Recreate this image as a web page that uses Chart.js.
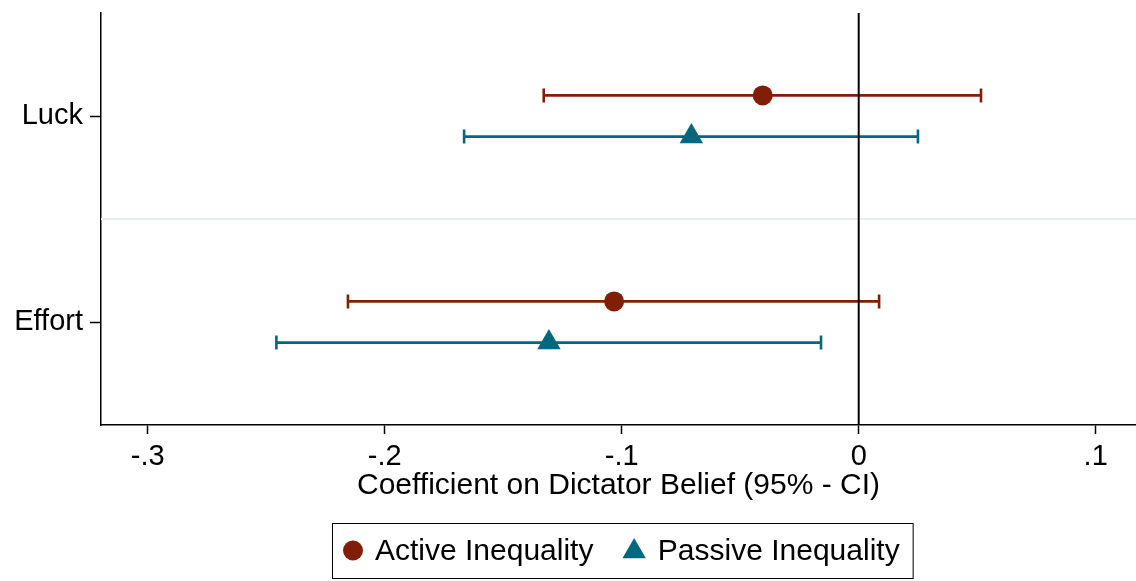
<!DOCTYPE html>
<html>
<head>
<meta charset="utf-8">
<title>Coefficient on Dictator Belief</title>
<script src="https://cdn.jsdelivr.net/npm/chart.js@4.4.1/dist/chart.umd.min.js"></script>
<style>
  html, body { margin: 0; padding: 0; background: #ffffff; overflow: hidden; }
  #wrap { width: 1136px; height: 581px; position: relative; }
</style>
</head>
<body>
<div id="wrap"><canvas id="chart"></canvas></div>
<script>
// Treatment categories (top to bottom) and the two inequality conditions
const categories = ['Luck', 'Effort'];
const seriesNames = ['Active Inequality', 'Passive Inequality'];

// Point estimates and 95% confidence bounds, one entry per category
const activeCoef  = [-0.0405, -0.1032];
const activeLow   = [-0.1329, -0.2155];
const activeHigh  = [ 0.0516,  0.0086];
const passiveCoef = [-0.0706, -0.1307];
const passiveLow  = [-0.1665, -0.2457];
const passiveHigh = [ 0.0250, -0.0159];

// Horizontal axis ticks
const xTickValues = [-0.3, -0.2, -0.1, 0, 0.1];
const xTickLabels = ['-.3', '-.2', '-.1', '0', '.1'];
const xTitle = 'Coefficient on Dictator Belief (95% - CI)';

const RED = '#801e08';
const TEAL = '#03677f';
const FONT = '"Liberation Sans", Arial, Helvetica, sans-serif';
Chart.defaults.font.family = FONT;
Chart.defaults.color = '#000';

// Each series sits slightly above / below its category row
function rows(coef, low, high, shift) {
  return categories.map((c, i) => ({ x: coef[i], y: i + 1 + shift, lo: low[i], hi: high[i] }));
}

// Separator between rows, confidence intervals with caps, and the zero reference line
const intervalPlugin = {
  id: 'intervals',
  beforeDatasetsDraw(chart) {
    const { ctx, chartArea: ca } = chart;
    const xs = chart.scales.x, ys = chart.scales.y;
    ctx.save();
    // light separator between the two category rows
    for (let i = 1; i < categories.length; i++) {
      const y = ys.getPixelForValue(i + 0.5);
      ctx.strokeStyle = '#e6eff1';
      ctx.lineWidth = 2;
      ctx.beginPath();
      ctx.moveTo(ca.left, y);
      ctx.lineTo(ca.right, y);
      ctx.stroke();
    }
    // interval bars
    ctx.lineCap = 'butt';
    chart.data.datasets.forEach(ds => {
      ctx.strokeStyle = ds.borderColor;
      ctx.lineWidth = 2.6;
      ds.data.forEach(p => {
        const y = ys.getPixelForValue(p.y);
        const x1 = xs.getPixelForValue(p.lo);
        const x2 = xs.getPixelForValue(p.hi);
        ctx.beginPath();
        ctx.moveTo(x1, y); ctx.lineTo(x2, y);
        ctx.moveTo(x1, y - 7); ctx.lineTo(x1, y + 7);
        ctx.moveTo(x2, y - 7); ctx.lineTo(x2, y + 7);
        ctx.stroke();
      });
    });
    // vertical reference line at zero
    const x0 = xs.getPixelForValue(0);
    ctx.strokeStyle = '#000';
    ctx.lineWidth = 2;
    ctx.beginPath();
    ctx.moveTo(x0, ca.top);
    ctx.lineTo(x0, ca.bottom);
    ctx.stroke();
    ctx.restore();
  }
};

// Boxed legend below the axis title
const boxLegendPlugin = {
  id: 'boxLegend',
  afterDraw(chart) {
    const { ctx, chartArea: ca } = chart;
    ctx.save();
    ctx.font = '30px ' + FONT;
    ctx.textBaseline = 'middle';
    const padL = 11, padR = 13, gapText = 12, gapItem = 29;
    const items = chart.data.datasets.map(ds => {
      const r = ds.pointRadius;
      const w = ds.pointStyle === 'triangle' ? r * Math.sqrt(3) : 2 * r;
      return { ds, w, tw: ctx.measureText(ds.label).width };
    });
    let total = padL + padR;
    items.forEach((it, i) => { total += it.w + gapText + it.tw + (i ? gapItem : 0); });
    const h = 55;
    const cx = (ca.left + ca.right) / 2 + 3.5;
    const left = Math.round(cx - total / 2);
    const top = 523;
    const cy = top + h / 2;
    ctx.strokeStyle = '#000';
    ctx.lineWidth = 1;
    ctx.strokeRect(left + 0.5, top + 0.5, total, h);
    let x = left + padL;
    items.forEach((it, i) => {
      if (i) x += gapItem;
      const ds = it.ds;
      ctx.fillStyle = ds.backgroundColor;
      const mx = x + it.w / 2;
      if (ds.pointStyle === 'triangle') {
        const r = ds.pointRadius;
        const my = cy + 1;
        ctx.beginPath();
        ctx.moveTo(mx, my - r);
        ctx.lineTo(mx + r * Math.sqrt(3) / 2, my + r / 2);
        ctx.lineTo(mx - r * Math.sqrt(3) / 2, my + r / 2);
        ctx.closePath();
        ctx.fill();
      } else {
        ctx.beginPath();
        ctx.arc(mx, cy, ds.pointRadius, 0, Math.PI * 2);
        ctx.fill();
      }
      x += it.w + gapText;
      ctx.fillStyle = '#000';
      ctx.fillText(ds.label, x, cy + 1);
      x += it.tw;
    });
    ctx.restore();
  }
};

new Chart(document.getElementById('chart'), {
  type: 'scatter',
  data: {
    datasets: [
      {
        label: seriesNames[0],
        data: rows(activeCoef, activeLow, activeHigh, -0.1),
        pointStyle: 'circle',
        pointRadius: 10,
        backgroundColor: RED,
        borderColor: RED,
        borderWidth: 0
      },
      {
        label: seriesNames[1],
        data: rows(passiveCoef, passiveLow, passiveHigh, 0.1),
        pointStyle: 'triangle',
        pointRadius: 13.5,
        backgroundColor: TEAL,
        borderColor: TEAL,
        borderWidth: 0
      }
    ]
  },
  options: {
    responsive: true,
    maintainAspectRatio: false,
    animation: false,
    events: [],
    layout: { autoPadding: false, padding: { top: 13, left: 0, right: 0, bottom: 0 } },
    plugins: {
      legend: { display: false },
      tooltip: { enabled: false }
    },
    scales: {
      x: {
        type: 'linear',
        position: 'bottom',
        min: -0.3197,
        max: 0.1170,
        afterBuildTicks: s => { s.ticks = xTickValues.map(v => ({ value: v })); },
        afterFit: s => { s.height = 156; s.paddingLeft = 0; s.paddingRight = 0; },
        ticks: {
          autoSkip: false,
          maxRotation: 0,
          padding: 6,
          font: { size: 29 },
          color: '#000',
          callback: (v, i) => xTickLabels[i]
        },
        grid: {
          drawOnChartArea: false,
          drawTicks: true,
          tickLength: 9,
          tickColor: '#000',
          tickWidth: 1.5
        },
        border: { display: true, color: '#000', width: 1.5 },
        title: {
          display: true,
          text: xTitle,
          font: { size: 30 },
          color: '#000',
          padding: { top: 0, bottom: 77 }
        }
      },
      y: {
        type: 'linear',
        reverse: true,
        min: 0.5,
        max: categories.length + 0.5,
        afterBuildTicks: s => { s.ticks = categories.map((c, i) => ({ value: i + 1 })); },
        afterFit: s => { s.width = 101; s.paddingTop = 0; s.paddingBottom = 0; },
        ticks: {
          autoSkip: false,
          padding: 7,
          font: { size: 29 },
          color: '#000',
          callback: (v, i) => categories[i]
        },
        grid: {
          drawOnChartArea: false,
          drawTicks: true,
          tickLength: 11,
          tickColor: '#000',
          tickWidth: 1.5
        },
        border: { display: true, color: '#000', width: 1.5 }
      }
    }
  },
  plugins: [intervalPlugin, boxLegendPlugin]
});
</script>
</body>
</html>
